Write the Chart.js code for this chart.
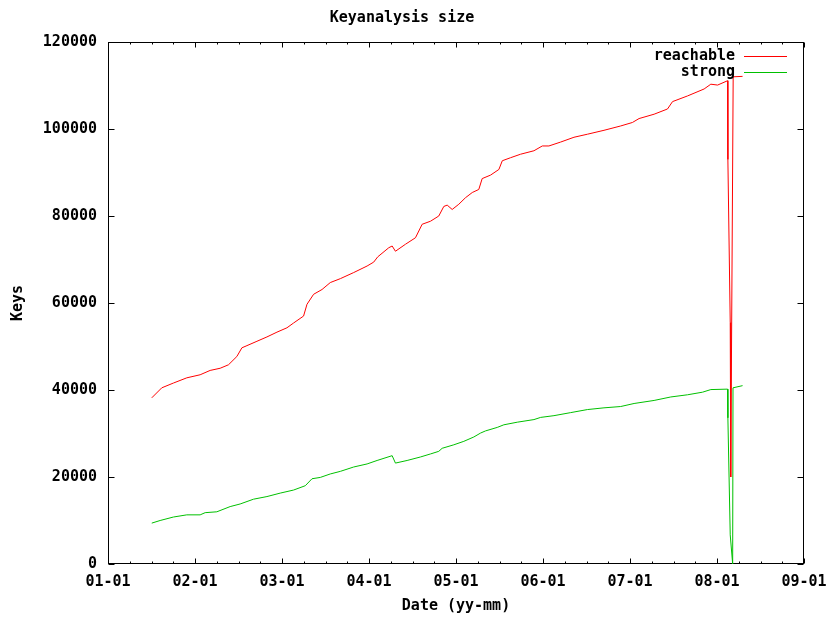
<!DOCTYPE html>
<html>
<head>
<meta charset="utf-8">
<title>Keyanalysis size</title>
<script src="https://cdn.jsdelivr.net/npm/chart.js@4/dist/chart.umd.min.js"></script>
<style>
  html, body { margin: 0; padding: 0; background: #fff; }
  #wrap { width: 830px; height: 618px; }
</style>
</head>
<body>
<div id="wrap"><canvas id="chart" width="830" height="618"></canvas></div>
<script>
// Sample dates as fractional years after 2000 (1.5 = mid 2001)
const reachableYears = [
  1.503, 1.618, 1.752, 1.906, 2.059, 2.174, 2.289, 2.385, 2.481, 2.539,
  2.597, 2.712, 2.827, 2.942, 3.057, 3.133, 3.248, 3.287, 3.363, 3.460,
  3.555, 3.671, 3.824, 3.978, 4.054, 4.100, 4.227, 4.266, 4.304, 4.419,
  4.534, 4.611, 4.707, 4.802, 4.860, 4.899, 4.956, 5.032, 5.109, 5.187,
  5.262, 5.301, 5.397, 5.493, 5.532, 5.627, 5.742, 5.896, 5.992, 6.068,
  6.203, 6.356, 6.510, 6.701, 6.893, 7.028, 7.104, 7.277, 7.431, 7.489,
  7.661, 7.852, 7.929, 8.007, 8.122, 8.125, 8.152, 8.158, 8.186, 8.294
];
const reachableKeys = [
  38200, 40500, 41600, 42800, 43500, 44500, 45000, 45800, 47700, 49700,
  50200, 51200, 52200, 53300, 54300, 55400, 57000, 59700, 62000, 63100,
  64700, 65600, 67000, 68500, 69400, 70600, 72700, 73100, 71900, 73500,
  75000, 78100, 78800, 80000, 82200, 82500, 81500, 82700, 84200, 85400,
  86100, 88600, 89400, 90700, 92700, 93400, 94200, 95000, 96100, 96100,
  97000, 98100, 98800, 99700, 100700, 101500, 102400, 103400, 104600, 106300,
  107600, 109200, 110300, 110100, 111100, 93000, 55500, 20000, 112000, 112100
];

const strongYears = [
  1.503, 1.599, 1.752, 1.906, 2.059, 2.117, 2.251, 2.404, 2.519, 2.673,
  2.827, 2.980, 3.133, 3.268, 3.345, 3.440, 3.555, 3.671, 3.824, 3.978,
  4.093, 4.266, 4.304, 4.438, 4.591, 4.707, 4.802, 4.841, 4.975, 5.090,
  5.205, 5.282, 5.340, 5.474, 5.550, 5.704, 5.896, 5.973, 6.126, 6.318,
  6.510, 6.701, 6.893, 7.047, 7.277, 7.469, 7.661, 7.834, 7.929, 8.122,
  8.125, 8.152, 8.180, 8.184, 8.294
];
const strongKeys = [
  9400, 10000, 10800, 11300, 11300, 11800, 12000, 13200, 13800, 14900,
  15500, 16300, 17000, 18000, 19600, 19900, 20700, 21300, 22300, 23000,
  23800, 24900, 23200, 23800, 24600, 25300, 25900, 26600, 27400, 28200,
  29200, 30100, 30600, 31400, 32000, 32600, 33200, 33700, 34100, 34800,
  35500, 35900, 36200, 36900, 37600, 38400, 38900, 39500, 40100, 40200,
  33600, 6700, 0, 40500, 41000
];

const xTickYears = [1, 2, 3, 4, 5, 6, 7, 8, 9];
const yTickValues = [0, 20000, 40000, 60000, 80000, 100000, 120000];

const FONT = '"DejaVu Sans Mono", "Liberation Mono", monospace';
const FONT_SIZE = 15;
const pts = (xs, ys) => xs.map((x, i) => ({ x, y: ys[i] }));
const fmtYear = v => String(Math.round(v)).padStart(2, '0') + '-01';

// Border box with inward ticks on all four sides, plus a gnuplot-style key
const frameTicksKey = {
  id: 'frameTicksKey',
  beforeDatasetsDraw(chart) {
    const { ctx, chartArea: a, scales: { x, y } } = chart;
    const L = Math.round(a.left) + 0.5, R = Math.round(a.right) - 0.5;
    const T = Math.round(a.top) + 0.5, B = Math.round(a.bottom) - 0.5;
    ctx.save();
    ctx.strokeStyle = '#000';
    ctx.lineWidth = 1;
    ctx.strokeRect(L, T, R - L, B - T);
    ctx.beginPath();
    for (let q = x.min * 4; q <= x.max * 4; q++) {
      const v = q / 4;
      const px = Math.round(x.getPixelForValue(v)) + 0.5;
      const len = q % 4 === 0 ? 5 : 2;
      ctx.moveTo(px, B); ctx.lineTo(px, B - len);
      ctx.moveTo(px, T); ctx.lineTo(px, T + len);
    }
    for (const t of y.ticks) {
      const py = Math.round(y.getPixelForValue(t.value)) + 0.5;
      ctx.moveTo(L, py); ctx.lineTo(L + 6, py);
      ctx.moveTo(R, py); ctx.lineTo(R - 6, py);
    }
    ctx.stroke();
    ctx.restore();
  },
  afterDatasetsDraw(chart) {
    const { ctx, chartArea: a } = chart;
    ctx.save();
    ctx.font = 'bold ' + FONT_SIZE + 'px ' + FONT;
    ctx.textAlign = 'right';
    ctx.textBaseline = 'middle';
    chart.data.datasets.forEach((ds, i) => {
      const yy = Math.round(a.top) + 14 + i * 16;
      ctx.fillStyle = '#000';
      ctx.fillText(ds.label, a.right - 69, yy);
      ctx.strokeStyle = ds.borderColor;
      ctx.lineWidth = 1;
      ctx.beginPath();
      ctx.moveTo(a.right - 60, yy + 0.5);
      ctx.lineTo(a.right - 17, yy + 0.5);
      ctx.stroke();
    });
    ctx.restore();
  }
};

const axisFont = { family: FONT, size: FONT_SIZE, weight: 'bold' };

new Chart(document.getElementById('chart'), {
  type: 'line',
  data: {
    datasets: [
      {
        label: 'reachable',
        data: pts(reachableYears, reachableKeys),
        borderColor: '#ff0000',
        borderWidth: 1,
        pointRadius: 0,
        tension: 0,
        fill: false,
        order: 1
      },
      {
        label: 'strong',
        data: pts(strongYears, strongKeys),
        borderColor: '#00c000',
        borderWidth: 1,
        pointRadius: 0,
        tension: 0,
        fill: false,
        order: 0
      }
    ]
  },
  options: {
    responsive: false,
    animation: false,
    events: [],
    layout: { padding: { left: 0, right: 26, top: 0, bottom: 0 } },
    plugins: {
      legend: { display: false },
      tooltip: { enabled: false },
      title: {
        display: true,
        text: 'Keyanalysis size',
        color: '#000',
        font: axisFont,
        padding: { top: 9, bottom: 15 }
      }
    },
    scales: {
      x: {
        type: 'linear',
        min: xTickYears[0],
        max: xTickYears[xTickYears.length - 1],
        afterBuildTicks: s => { s.ticks = xTickYears.map(v => ({ value: v })); },
        afterFit: s => { s.height = 54; s.paddingLeft = 0; s.paddingRight = 0; },
        grid: { display: false, drawTicks: false },
        border: { display: false },
        ticks: {
          color: '#000',
          font: axisFont,
          padding: 9,
          maxRotation: 0,
          autoSkip: false,
          callback: v => fmtYear(v)
        },
        title: {
          display: true,
          text: 'Date (yy-mm)',
          color: '#000',
          font: axisFont,
          padding: { top: 0, bottom: 3 }
        }
      },
      y: {
        min: yTickValues[0],
        max: yTickValues[yTickValues.length - 1],
        afterBuildTicks: s => { s.ticks = yTickValues.map(v => ({ value: v })); },
        afterFit: s => { s.width = 108; s.paddingTop = 0; s.paddingBottom = 0; },
        grid: { display: false, drawTicks: false },
        border: { display: false },
        ticks: {
          color: '#000',
          font: axisFont,
          padding: 11,
          autoSkip: false,
          callback: v => String(v)
        },
        title: {
          display: true,
          text: 'Keys',
          color: '#000',
          font: axisFont,
          padding: { top: 9, bottom: 0 }
        }
      }
    }
  },
  plugins: [frameTicksKey]
});
</script>
</body>
</html>
